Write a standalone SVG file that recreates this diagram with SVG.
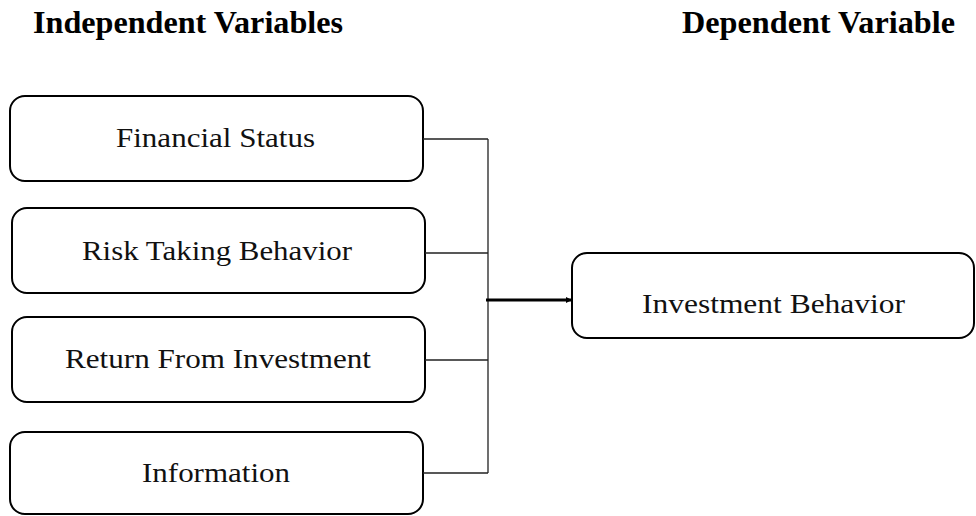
<svg xmlns="http://www.w3.org/2000/svg" width="976" height="516" viewBox="0 0 976 516">
<style>
.box{fill:#fff;stroke:#000;stroke-width:2}
.lbl{font-family:"Liberation Serif","Times New Roman",serif;font-size:28px;fill:#111;text-anchor:start}
.hd{font-family:"Liberation Serif","Times New Roman",serif;font-size:32px;font-weight:bold;fill:#000}
.conn{stroke:#222;stroke-width:1.3;fill:none}
</style>
<defs>
<marker id="ah" markerWidth="6" markerHeight="6" refX="5" refY="3" orient="auto" markerUnits="userSpaceOnUse">
<path d="M0,0 L6,3 L0,6 z" fill="#000"/>
</marker>
</defs>
<text class="hd" x="33" y="33" textLength="310" lengthAdjust="spacingAndGlyphs">Independent Variables</text>
<text class="hd" x="682" y="33" textLength="273" lengthAdjust="spacingAndGlyphs">Dependent Variable</text>
<g id="financial-status">
<rect class="box" x="10" y="96" width="413" height="85" rx="15"/>
<text class="lbl" x="116" y="147" textLength="199" lengthAdjust="spacingAndGlyphs">Financial Status</text>
</g>
<g id="risk-taking-behavior">
<rect class="box" x="12" y="208" width="413" height="85" rx="15"/>
<text class="lbl" x="82" y="260" textLength="270" lengthAdjust="spacingAndGlyphs">Risk Taking Behavior</text>
</g>
<g id="return-from-investment">
<rect class="box" x="12" y="317" width="413" height="85" rx="15"/>
<text class="lbl" x="65" y="368" textLength="306" lengthAdjust="spacingAndGlyphs">Return From Investment</text>
</g>
<g id="information">
<rect class="box" x="10" y="432" width="413" height="82" rx="15"/>
<text class="lbl" x="142" y="482" textLength="148" lengthAdjust="spacingAndGlyphs">Information</text>
</g>
<g id="investment-behavior">
<rect class="box" x="572" y="253" width="402" height="85" rx="15"/>
<text class="lbl" x="642" y="313" textLength="263" lengthAdjust="spacingAndGlyphs">Investment Behavior</text>
</g>
<g id="connectors">
<path class="conn" d="M423,139 H488 M425,253 H488 M425,360 H488 M423,473 H488 M488,139 V473"/>
<line x1="486" y1="300" x2="571" y2="300" stroke="#000" stroke-width="3.2" marker-end="url(#ah)"/>
</g>
</svg>
